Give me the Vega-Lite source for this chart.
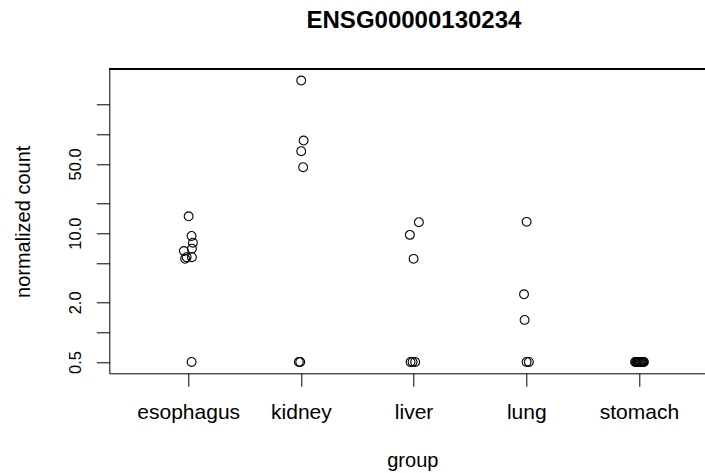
{
  "$schema": "https://vega.github.io/schema/vega-lite/v6.json",
  "autosize": {"type": "none"},
  "padding": {"left": 109.3, "top": 69.3, "right": 0, "bottom": 99.7},
  "width": 595.7,
  "height": 304,
  "background": "white",
  "config": {
    "view": {"stroke": null},
    "font": "Liberation Sans"
  },
  "title": {
    "text": "ENSG00000130234",
    "font": "Liberation Sans",
    "fontSize": 24,
    "fontWeight": "bold",
    "color": "black",
    "anchor": "middle",
    "frame": "group",
    "baseline": "alphabetic",
    "offset": 17,
    "dx": 6.8
  },
  "data": {
    "values": [
      {"group": "esophagus", "pos": 1.004, "count": 14.8},
      {"group": "esophagus", "pos": 1.03, "count": 9.37},
      {"group": "esophagus", "pos": 1.042, "count": 8.0},
      {"group": "esophagus", "pos": 1.033, "count": 6.97},
      {"group": "esophagus", "pos": 0.962, "count": 6.6},
      {"group": "esophagus", "pos": 1.033, "count": 5.71},
      {"group": "esophagus", "pos": 0.973, "count": 5.5},
      {"group": "esophagus", "pos": 0.986, "count": 5.71},
      {"group": "esophagus", "pos": 1.03, "count": 0.5},
      {"group": "kidney", "pos": 2.003, "count": 347},
      {"group": "kidney", "pos": 2.024, "count": 86},
      {"group": "kidney", "pos": 2.003, "count": 67.2},
      {"group": "kidney", "pos": 2.02, "count": 46.3},
      {"group": "kidney", "pos": 1.982, "count": 0.5},
      {"group": "kidney", "pos": 1.994, "count": 0.5},
      {"group": "liver", "pos": 3.047, "count": 12.9},
      {"group": "liver", "pos": 2.967, "count": 9.6},
      {"group": "liver", "pos": 3.0, "count": 5.5},
      {"group": "liver", "pos": 2.973, "count": 0.5},
      {"group": "liver", "pos": 2.991, "count": 0.5},
      {"group": "liver", "pos": 3.014, "count": 0.5},
      {"group": "lung", "pos": 4.003, "count": 13.0},
      {"group": "lung", "pos": 3.98, "count": 2.41},
      {"group": "lung", "pos": 3.985, "count": 1.33},
      {"group": "lung", "pos": 4.003, "count": 0.5},
      {"group": "lung", "pos": 4.023, "count": 0.5},
      {"group": "stomach", "pos": 4.966, "count": 0.5},
      {"group": "stomach", "pos": 4.974, "count": 0.5},
      {"group": "stomach", "pos": 4.982, "count": 0.5},
      {"group": "stomach", "pos": 4.99, "count": 0.5},
      {"group": "stomach", "pos": 4.998, "count": 0.5},
      {"group": "stomach", "pos": 5.006, "count": 0.5},
      {"group": "stomach", "pos": 5.014, "count": 0.5},
      {"group": "stomach", "pos": 5.022, "count": 0.5},
      {"group": "stomach", "pos": 5.03, "count": 0.5},
      {"group": "stomach", "pos": 5.037, "count": 0.5},
      {"group": "stomach", "pos": 5.044, "count": 0.5}
    ]
  },
  "layer": [
    {
      "mark": {"type": "point", "shape": "circle", "filled": false, "stroke": "black", "strokeWidth": 1.1, "size": 78, "opacity": 1},
      "encoding": {
        "x": {
          "field": "pos",
          "type": "quantitative",
          "scale": {"domain": [0.3, 5.586], "nice": false, "zero": false},
          "axis": {
            "values": [1, 2, 3, 4, 5],
            "labelExpr": "['esophagus','kidney','liver','lung','stomach'][datum.value - 1]",
            "grid": false,
            "domainColor": "black",
            "domainWidth": 1,
            "tickColor": "black",
            "tickSize": 13,
            "tickWidth": 1,
            "labelFont": "Liberation Sans",
            "labelFontSize": 21,
            "labelColor": "black",
            "labelBaseline": "alphabetic",
            "labelPadding": 31.7,
            "labelAlign": "center",
            "labelOverlap": false,
            "labelBound": false,
            "labelFlush": false,
            "title": "group",
            "titleFont": "Liberation Sans",
            "titleFontSize": 20,
            "titleFontWeight": "normal",
            "titleColor": "black",
            "titleBaseline": "alphabetic",
            "titleAlign": "center",
            "titleX": 303,
            "titleY": 92.7
          }
        },
        "y": {
          "field": "count",
          "type": "quantitative",
          "scale": {"type": "log", "domain": [0.3843, 451], "nice": false, "zero": false},
          "axis": {
            "values": [0.5, 1, 2, 5, 10, 20, 50, 100, 200],
            "labelExpr": "indexof([0.5, 2, 10, 50], datum.value) >= 0 ? format(datum.value, '.1f') : ''",
            "grid": false,
            "domainColor": "black",
            "domainWidth": 1,
            "tickColor": "black",
            "tickSize": 13,
            "tickWidth": 1,
            "labelFont": "Liberation Sans",
            "labelFontSize": 16.5,
            "labelColor": "black",
            "labelAngle": -90,
            "labelAlign": "center",
            "labelBaseline": "alphabetic",
            "labelPadding": 16.3,
            "labelOverlap": false,
            "labelBound": false,
            "labelFlush": false,
            "title": "normalized count",
            "titleFont": "Liberation Sans",
            "titleFontSize": 20,
            "titleFontWeight": "normal",
            "titleColor": "black",
            "titleAngle": -90,
            "titleAlign": "center",
            "titleBaseline": "alphabetic",
            "titleX": -80.3,
            "titleY": 152
          }
        }
      }
    },
    {
      "mark": {"type": "rule", "color": "black", "strokeWidth": 1},
      "encoding": {
        "y": {"datum": 451, "type": "quantitative"}
      }
    }
  ]
}
